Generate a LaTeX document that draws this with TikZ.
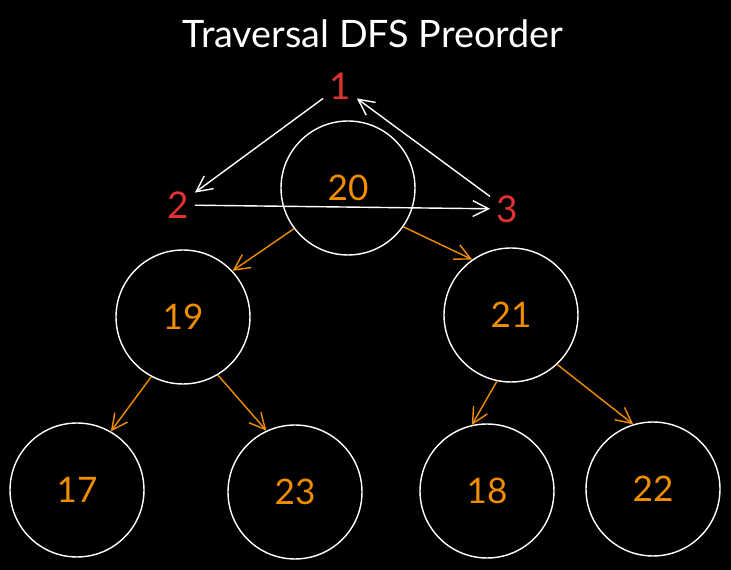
\documentclass[tikz,border=0pt]{standalone}
\usepackage{fontspec}
\setmainfont{Lato}
\usetikzlibrary{arrows.meta}
\definecolor{treeorange}{RGB}{240,140,0}
\definecolor{stepred}{RGB}{225,50,50}

\begin{document}
\begin{tikzpicture}[x=0.02cm,y=-0.02cm]
      \fill[black] (0,0) rectangle (731,570);
      \useasboundingbox (0,0) rectangle (731,570);
      \tikzset{
        treenode/.style={shape=circle, draw=white, thick, minimum size=2.68cm,
          text=treeorange, font=\fontsize{20}{24}\selectfont},
        orderlabel/.style={text=stepred, font=\fontsize{21}{25}\selectfont},
        childarrow/.style={draw=treeorange, thick, -{Straight Barb[length=9pt,width=9pt]}},
        visitarrow/.style={draw=white, thick, -{Straight Barb[length=9pt,width=9pt]}}
      }

      \node[text=white, font=\fontsize{21.5}{26}\selectfont] (title) at (373,34) {Traversal DFS Preorder};

      \node[treenode] (A) at (348,188) {20};
      \node[treenode] (B) at (183,317) {19};
      \node[treenode] (C) at (511,315) {21};
      \node[treenode] (D) at (77,490) {17};
      \node[treenode] (E) at (295,492) {23};
      \node[treenode] (F) at (487,491) {18};
      \node[treenode] (G) at (653,489) {22};

      \node[orderlabel] (one) at (340,86) {1};
      \node[orderlabel] (two) at (178,205) {2};
      \node[orderlabel] (three) at (507,209) {3};

      \draw [childarrow] (A.217) -- (B.43);
      \draw [childarrow] (A.325) -- (C.125);
      \draw [childarrow] (B.242) -- (D.60);
      \draw [childarrow] (B.301) -- (E.115);
      \draw [childarrow] (C.258) -- (F.103);
      \draw [childarrow] (C.313) -- (G.107);

      \path [visitarrow] (one) edge (two);
      \path [visitarrow] (two) edge (three);
      \path [visitarrow] (three) edge (one);
    \end{tikzpicture}
\end{document}
